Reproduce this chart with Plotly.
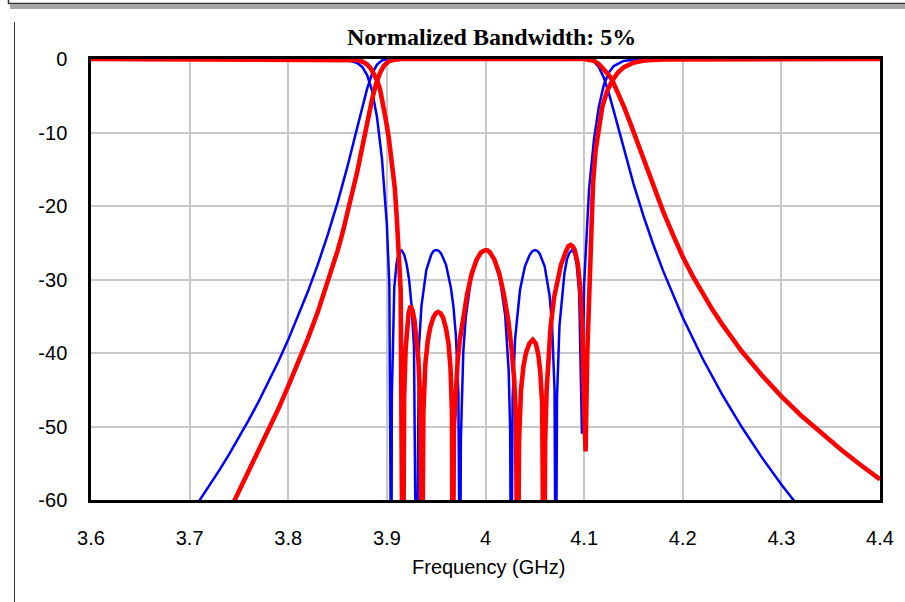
import plotly.graph_objects as go

# ---------------- data ----------------
blue_s21_freq = [3.60, 3.70, 3.71, 3.72, 3.73, 3.74, 3.75, 3.76, 3.77, 3.78, 3.79, 3.80, 3.81,
                 3.82, 3.83, 3.84, 3.85, 3.86, 3.87, 3.875, 3.88, 3.885, 3.89, 3.895, 3.90,
                 3.91, 4.09, 4.10, 4.105, 4.11, 4.115, 4.12, 4.125, 4.13, 4.14, 4.15, 4.16,
                 4.17, 4.18, 4.19, 4.20, 4.22, 4.24, 4.26, 4.28, 4.30, 4.32, 4.40]
blue_s21_db = [-78.4, -62.05, -60.05, -58.08, -55.98, -53.79, -51.5, -49.11, -46.6, -43.95,
               -41.15, -38.18, -35.02, -31.61, -27.94, -23.94, -19.53, -14.65, -9.30, -6.57,
               -4.03, -2.02, -0.76, -0.20, -0.02, 0.0, 0.0, 0.0, -0.07, -0.37, -1.12, -2.55,
               -4.61, -7.06, -12.16, -16.95, -21.28, -25.2, -28.79, -32.1, -35.17, -40.72,
               -45.66, -50.11, -54.17, -57.89, -61.34, -73.0]

blue_s11_freq = [3.60, 3.80, 3.84, 3.85, 3.86, 3.87, 3.875, 3.88, 3.885, 3.89, 3.895, 3.90,
                 3.9025, 3.9046, 3.905, 3.9075, 3.91, 3.9125, 3.915, 3.9175, 3.92, 3.9225,
                 3.925, 3.9275, 3.93, 3.9325, 3.935, 3.94, 3.945, 3.9475, 3.95, 3.9525,
                 3.955, 3.96, 3.965, 3.9675, 3.97, 3.9725, 3.9742, 3.975, 3.9775, 3.98,
                 3.985, 3.99, 3.995, 3.9975, 4.0, 4.0025, 4.005, 4.01, 4.015, 4.02, 4.0235,
                 4.025, 4.026, 4.0275, 4.03, 4.035, 4.04, 4.045, 4.0475, 4.05, 4.0525,
                 4.055, 4.06, 4.065, 4.0675, 4.07, 4.0713, 4.0725, 4.075, 4.08, 4.0825,
                 4.085, 4.0875, 4.09, 4.0925, 4.095, 4.0978, 4.10, 4.105, 4.11, 4.115,
                 4.12, 4.125, 4.13, 4.14, 4.15, 4.16, 4.20, 4.40]
blue_s11_db = [0.0, -0.01, -0.02, -0.05, -0.15, -0.55, -1.08, -2.18, -4.30, -7.93, -13.52,
               -22.53, -30.8, -80.0, -46.1, -31.1, -27.6, -26.2, -26.03, -26.6, -27.9,
               -30.0, -33.5, -39.2, -80.0, -39.2, -33.7, -28.7, -26.6, -26.1, -26.0, -26.1,
               -26.45, -28.0, -31.2, -33.7, -37.65, -45.4, -80.0, -51.9, -39.8, -35.1,
               -30.2, -27.7, -26.4, -26.1, -26.0, -26.1, -26.4, -27.7, -30.2, -34.9, -42.4,
               -50.4, -80.0, -46.2, -38.1, -31.4, -28.2, -26.6, -26.16, -26.0, -26.1,
               -26.5, -28.2, -32.2, -36.2, -45.0, -80.0, -46.1, -36.3, -29.2, -27.3,
               -26.4, -26.0, -26.4, -28.0, -31.9, -51.0, -30.6, -17.7, -10.94, -6.43,
               -3.53, -1.84, -0.96, -0.27, -0.09, -0.03, 0.0, 0.0]

red_s21_freq = [3.60, 3.70, 3.74, 3.75, 3.76, 3.77, 3.78, 3.79, 3.80, 3.81, 3.82, 3.83, 3.84,
                3.85, 3.855, 3.86, 3.865, 3.87, 3.875, 3.88, 3.885, 3.889, 3.893, 3.897,
                3.902, 3.908, 3.915, 4.10, 4.105, 4.11, 4.115, 4.12, 4.1245, 4.1286,
                4.1345, 4.1404, 4.147, 4.154, 4.16, 4.17, 4.18, 4.19, 4.20, 4.21, 4.22,
                4.23, 4.24, 4.26, 4.28, 4.30, 4.32, 4.34, 4.36, 4.38, 4.40]
red_s21_db = [-85.0, -72.0, -61.6, -58.8, -56.1, -53.4, -50.6, -47.6, -44.5, -41.3, -38.0,
              -34.4, -30.4, -26.1, -23.7, -21.1, -18.3, -15.3, -12.0, -8.6, -5.5, -3.4,
              -1.9, -0.9, -0.3, -0.08, 0.0, 0.0, -0.05, -0.25, -0.7, -1.4, -2.1, -2.9,
              -4.6, -6.5, -8.8, -11.3, -13.6, -17.3, -20.7, -23.9, -26.9, -29.5, -31.9,
              -34.1, -36.1, -39.8, -43.0, -45.9, -48.5, -50.9, -53.1, -55.2, -57.2]

red_s11_freq = [3.60, 3.85, 3.87, 3.876, 3.880, 3.884, 3.887, 3.890, 3.893, 3.896, 3.899,
                3.902, 3.905, 3.908, 3.910, 3.912, 3.914, 3.9162, 3.9175, 3.919, 3.9205,
                3.922, 3.924, 3.926, 3.928, 3.930, 3.932, 3.934, 3.9355, 3.937, 3.939,
                3.9415, 3.944, 3.947, 3.9495, 3.952, 3.9545, 3.957, 3.960, 3.9625, 3.9645,
                3.966, 3.9668, 3.968, 3.970, 3.9718, 3.974, 3.977, 3.9814, 3.986, 3.991,
                3.9955, 3.998, 4.0, 4.002, 4.0045, 4.009, 4.014, 4.0186, 4.023, 4.0265,
                4.029, 4.031, 4.0325, 4.034, 4.036, 4.0385, 4.041, 4.0445, 4.048, 4.051,
                4.0535, 4.0555, 4.0575, 4.0592, 4.0605, 4.062, 4.064, 4.066, 4.0695,
                4.0728, 4.0765, 4.0815, 4.0838, 4.0863, 4.0885, 4.0905, 4.0935, 4.096,
                4.0981, 4.0997, 4.1015, 4.1032, 4.1048, 4.1066, 4.109, 4.1117, 4.115,
                4.1184, 4.1235, 4.1286, 4.1345, 4.1404, 4.150, 4.1607, 4.18, 4.40]
red_s11_db = [0.0, -0.03, -0.15, -0.4, -0.75, -1.35, -2.0, -2.9, -4.1, -5.9, -8.3, -10.8,
              -13.7, -17.5, -21.5, -26.0, -31.5, -80.0, -46.0, -39.5, -36.5, -34.6, -33.6,
              -34.2, -35.6, -37.8, -41.0, -47.0, -80.0, -48.0, -41.5, -38.3, -36.5, -35.2,
              -34.6, -34.4, -34.6, -35.2, -36.7, -38.7, -42.0, -48.0, -80.0, -50.0, -44.0,
              -41.0, -38.2, -35.3, -32.0, -29.2, -27.3, -26.3, -26.05, -26.0, -26.05, -26.3,
              -27.3, -29.2, -32.0, -35.5, -39.5, -43.5, -49.0, -80.0, -52.0, -45.0, -41.8,
              -40.0, -38.7, -38.2, -38.7, -40.2, -42.5, -47.0, -80.0, -52.0, -45.0, -40.0,
              -36.5, -32.5, -30.0, -28.0, -26.2, -25.5, -25.3, -25.5, -26.0, -27.8, -31.0,
              -36.9, -45.9, -53.4, -40.0, -32.3, -23.3, -17.0, -12.4, -9.0, -6.5, -4.3,
              -2.9, -1.8, -1.1, -0.5, -0.2, -0.05, 0.0]

x_ticks = [3.6, 3.7, 3.8, 3.9, 4.0, 4.1, 4.2, 4.3, 4.4]
x_tick_labels = ["3.6", "3.7", "3.8", "3.9", "4", "4.1", "4.2", "4.3", "4.4"]
y_ticks = [0, -10, -20, -30, -40, -50, -60]
y_tick_labels = ["0", "-10", "-20", "-30", "-40", "-50", "-60"]
chart_title = "Normalized Bandwidth: 5%"
x_title = "Frequency (GHz)"

# ---------------- figure ----------------
W, H = 905, 602
L, R, T, B = 91, 880, 59, 500


def px(xp):
    return (xp - L) / (R - L)


def py(yp):
    return (B - yp) / (B - T)


fig = go.Figure()
fig.add_trace(go.Scatter(x=blue_s21_freq, y=blue_s21_db, mode="lines",
                         line=dict(color="#0000FF", width=2.5), showlegend=False))
fig.add_trace(go.Scatter(x=blue_s11_freq, y=blue_s11_db, mode="lines",
                         line=dict(color="#0000FF", width=2.5), showlegend=False))
fig.add_trace(go.Scatter(x=red_s21_freq, y=red_s21_db, mode="lines",
                         line=dict(color="#FF0000", width=4.6), showlegend=False))
fig.add_trace(go.Scatter(x=red_s11_freq, y=red_s11_db, mode="lines",
                         line=dict(color="#FF0000", width=4.6), showlegend=False))

axis_font = dict(family="Liberation Sans, Arial, sans-serif", size=20, color="#000000")

fig.update_xaxes(range=[3.6, 4.4], tickvals=x_ticks, ticktext=x_tick_labels,
                 showgrid=True, gridcolor="#c8c8c8", gridwidth=2, zeroline=False,
                 showline=True, linecolor="#000000", linewidth=2.5, mirror=True,
                 ticks="", tickfont=axis_font, ticklabelstandoff=18)
fig.update_yaxes(range=[-60, 0], tickvals=y_ticks, ticktext=y_tick_labels,
                 showgrid=True, gridcolor="#c8c8c8", gridwidth=2, zeroline=False,
                 showline=True, linecolor="#000000", linewidth=2.5, mirror=True,
                 ticks="", tickfont=axis_font, ticklabelstandoff=17)

fig.update_layout(
    width=W, height=H,
    margin=dict(l=L, r=W - R, t=T, b=H - B, pad=0),
    paper_bgcolor="#ffffff", plot_bgcolor="#ffffff",
    showlegend=False,
)

fig.add_annotation(text=chart_title, xref="paper", yref="paper",
                   x=px(491), y=py(37), xanchor="center", yanchor="middle",
                   showarrow=False,
                   font=dict(family="Liberation Serif, Times New Roman, serif", size=24,
                             color="#000000", weight="bold"))
fig.add_annotation(text=x_title, xref="paper", yref="paper",
                   x=px(488), y=py(567), xanchor="center", yanchor="middle",
                   showarrow=False, font=axis_font)

# window frame decoration
fig.add_shape(type="rect", xref="paper", yref="paper",
              x0=px(10), x1=px(905), y0=py(9), y1=py(4.5),
              fillcolor="#a6a6a6", line=dict(width=0))
fig.add_shape(type="line", xref="paper", yref="paper",
              x0=px(8), x1=px(905), y0=py(3.5), y1=py(3.5),
              line=dict(color="#333333", width=1.5))
fig.add_shape(type="line", xref="paper", yref="paper",
              x0=px(8.5), x1=px(8.5), y0=py(0), y1=py(4),
              line=dict(color="#333333", width=1.5))
fig.add_shape(type="line", xref="paper", yref="paper",
              x0=px(14.5), x1=px(14.5), y0=py(22), y1=py(602),
              line=dict(color="#333333", width=1))

fig.write_html("out.html",
               config={"displayModeBar": False},
               post_script="document.body.style.margin='0px';"
                           "document.body.style.overflow='hidden';")
